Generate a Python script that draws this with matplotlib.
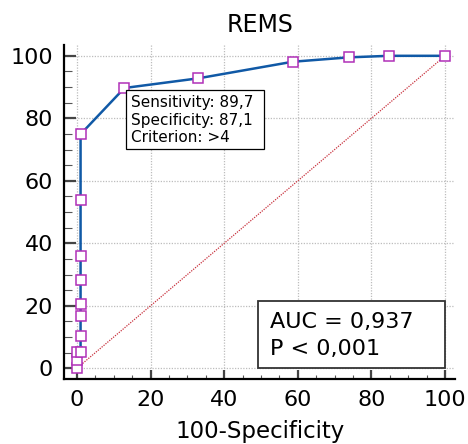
import matplotlib
matplotlib.use("Agg")
import matplotlib.pyplot as plt
from matplotlib.patches import Rectangle
from matplotlib.ticker import MultipleLocator

plt.rcParams['font.family'] = ['DejaVu Sans']

# ROC curve data (100-Specificity, Sensitivity)
fpr = [0, 0, 0, 1, 1, 1, 1, 1, 1, 1, 1, 12.9, 33.0, 58.6, 73.8, 84.7, 100]
sens = [0, 2.6, 5.1, 5.1, 10.3, 16.7, 20.5, 28.2, 35.9, 53.8, 74.9, 89.7, 92.8, 98.1, 99.5, 100, 100]
diag_x = [0, 100]
diag_y = [0, 100]
title = "REMS"
xlabel = "100-Specificity"
crit_lines = ["Sensitivity: 89,7", "Specificity: 87,1", "Criterion: >4"]
auc_lines = ["AUC = 0,937", "P < 0,001"]
ticks = [0, 20, 40, 60, 80, 100]

W, H = 468, 444
fig = plt.figure(figsize=(W / 100, H / 100), dpi=100)

def fx(px):
    return px / W

def fy(py):
    return 1 - py / H

ax = fig.add_axes([fx(64), fy(379), fx(455) - fx(64), fy(45) - fy(379)])
ax.set_xlim(-3.5, 102.7)
ax.set_ylim(-3.42, 103.46)

for s in ['top', 'right']:
    ax.spines[s].set_visible(False)
for s in ['left', 'bottom']:
    ax.spines[s].set_linewidth(1.6)
    ax.spines[s].set_color('black')

ax.set_xticks(ticks)
ax.set_yticks(ticks)
ax.xaxis.set_minor_locator(MultipleLocator(5))
ax.yaxis.set_minor_locator(MultipleLocator(5))
ax.tick_params(axis='both', which='major', direction='in', color='#444444', width=1.6,
               labelsize=16, labelcolor='black')
ax.tick_params(axis='x', which='major', length=6.5, pad=8)
ax.tick_params(axis='y', which='major', length=8.6, pad=8)
ax.tick_params(axis='x', which='minor', direction='in', length=3, width=0.8, color='#555555')
ax.tick_params(axis='y', which='minor', direction='in', length=5.5, width=0.8, color='#555555')

ax.grid(True, which='major', color='#bdbdbd', linestyle=(0, (1, 1.2)), linewidth=0.9)
ax.set_axisbelow(True)

ax.plot(diag_x, diag_y, color='#c8303c', linestyle=(0, (1, 1)), linewidth=0.9, zorder=2)
ax.plot(fpr, sens, color='#1059a6', linewidth=1.8, zorder=3,
        marker='s', markersize=7.2, markerfacecolor='white',
        markeredgecolor='#b030b8', markeredgewidth=1.1)

# Title and x label
fig.text(fx(260), fy(32), title, ha='center', va='baseline', fontsize=17)
fig.text(fx(260.5), fy(438), xlabel, ha='center', va='baseline', fontsize=16.5)

# Criterion box
r1 = Rectangle((fx(126), fy(149.3)), fx(264) - fx(126), fy(90) - fy(149.3),
               transform=fig.transFigure, facecolor='white', edgecolor='black',
               linewidth=0.9, zorder=5)
fig.patches.append(r1)
for i, line in enumerate(crit_lines):
    fig.text(fx(131), fy(107.5 + 17 * i), line, fontsize=11, va='baseline', zorder=6)

# AUC box
r2 = Rectangle((fx(257.5), fy(368.3)), fx(444.7) - fx(257.5), fy(300.7) - fy(368.3),
               transform=fig.transFigure, facecolor='white', edgecolor='#333333',
               linewidth=1.3, zorder=5)
fig.patches.append(r2)
for i, line in enumerate(auc_lines):
    fig.text(fx(270), fy(328 + 27 * i), line, fontsize=16, va='baseline', zorder=6)

fig.savefig("out.png", dpi=100)
